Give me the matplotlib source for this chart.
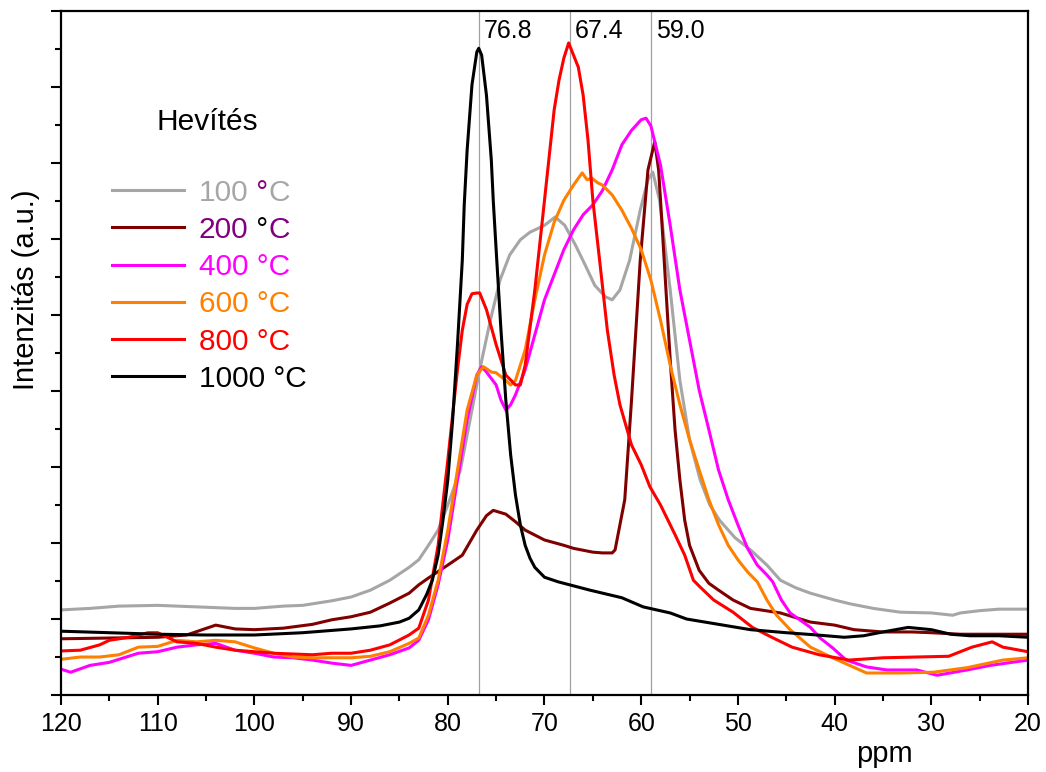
import matplotlib
matplotlib.use("Agg")
import matplotlib.pyplot as plt
from matplotlib.ticker import MultipleLocator

plt.rcParams['font.family'] = ['Liberation Sans', 'DejaVu Sans']

# 13C NMR spectra, ppm vs intensity (a.u.)
ppm_100 = [120, 117, 114, 110, 106, 102, 100, 97, 95, 92, 90, 88, 86, 84, 83, 82, 81, 80, 78.7, 77.7,
           76.7, 75.6, 74.6, 73.6, 72.5, 71.5, 70, 68.9, 67.9, 66.8, 65.8, 64.8, 63.7, 63.0, 62.2, 61.2,
           60.1, 59.3, 58.8, 58.1, 57.0, 56.0, 55.0, 53.9, 52.9, 51.9, 50.3, 48.7, 47, 45.6, 44, 42.5,
           40, 38.4, 36, 33.2, 30, 27.8, 27, 25, 23, 20]
int_100 = [1.12, 1.14, 1.17, 1.18, 1.16, 1.14, 1.14, 1.17, 1.18, 1.24, 1.29, 1.38, 1.51, 1.68, 1.78, 1.97,
           2.17, 2.50, 2.96, 3.62, 4.28, 4.93, 5.46, 5.79, 5.99, 6.09, 6.18, 6.29, 6.18, 5.92, 5.66, 5.39,
           5.24, 5.20, 5.33, 5.72, 6.38, 6.78, 6.88, 6.51, 5.33, 4.14, 3.36, 2.83, 2.50, 2.30, 2.07, 1.91,
           1.71, 1.51, 1.41, 1.34, 1.25, 1.20, 1.14, 1.09, 1.08, 1.05, 1.08, 1.11, 1.13, 1.13]

ppm_200 = [120, 115, 110, 107, 104, 102, 100, 97, 94, 92, 90, 88, 86, 84, 83, 82, 80, 78.5, 77, 76,
           75.3, 74, 73, 72, 70, 68, 67, 65, 64, 63, 62.7, 61.7, 61, 60.1, 59.3, 58.6, 58.2, 58, 57.5,
           57, 56.5, 56, 55.5, 55, 54, 53, 52, 50.5, 48.7, 45.6, 42.5, 40, 38, 35, 32, 30, 27, 25, 20]
int_200 = [0.74, 0.75, 0.76, 0.79, 0.92, 0.87, 0.86, 0.88, 0.93, 0.99, 1.03, 1.09, 1.21, 1.34, 1.45,
           1.54, 1.71, 1.84, 2.17, 2.36, 2.43, 2.38, 2.28, 2.17, 2.04, 1.97, 1.93, 1.88, 1.87, 1.87,
           1.91, 2.57, 3.88, 5.72, 6.91, 7.28, 6.91, 6.51, 5.46, 4.41, 3.49, 2.83, 2.30, 1.97, 1.64,
           1.47, 1.38, 1.25, 1.14, 1.08, 0.96, 0.92, 0.86, 0.83, 0.83, 0.82, 0.80, 0.80, 0.80]

ppm_400 = [120, 119, 117, 115, 112, 110, 108, 106, 104, 102, 100, 98, 96, 94, 92, 90, 88, 86, 84, 83,
           82, 81, 80, 79, 78, 77, 76.5, 76, 75, 74.5, 74, 73.5, 73, 72, 71, 70, 69, 68, 67, 66, 65, 64,
           63, 62, 61, 60, 59.5, 59, 58, 57, 56, 55, 54, 53, 52, 51, 50, 49, 48, 47, 46.4, 45.5, 44.6,
           42.5, 41.5, 40.2, 38.8, 36.7, 34.6, 31.5, 29.4, 26.3, 23.9, 20]
int_400 = [0.34, 0.30, 0.39, 0.43, 0.55, 0.57, 0.63, 0.66, 0.68, 0.59, 0.55, 0.50, 0.49, 0.46, 0.42,
           0.39, 0.46, 0.53, 0.62, 0.72, 0.99, 1.45, 2.04, 2.83, 3.62, 4.21, 4.32, 4.25, 4.08, 3.88,
           3.75, 3.82, 3.95, 4.28, 4.74, 5.20, 5.53, 5.86, 6.12, 6.32, 6.45, 6.64, 6.91, 7.24, 7.43,
           7.57, 7.59, 7.49, 6.97, 6.18, 5.33, 4.67, 4.01, 3.49, 2.96, 2.57, 2.24, 1.93, 1.71, 1.58,
           1.49, 1.25, 1.08, 0.89, 0.75, 0.62, 0.46, 0.37, 0.33, 0.33, 0.26, 0.33, 0.39, 0.46]

ppm_600 = [120, 118, 116, 114, 112, 110, 108, 106, 104, 102, 100, 98, 96, 94, 92, 90, 88, 86, 84, 83,
           82, 81, 80, 79, 78, 77, 76.3, 75.5, 75, 74, 73.5, 73, 72, 71, 70, 69, 68, 67, 66.5, 66.1,
           65.6, 65.1, 64.5, 64, 63, 62, 61, 60, 59, 58, 57, 56, 55, 54, 53, 52, 51, 50, 49, 48, 47, 46,
           44.6, 42.5, 40.2, 38.1, 36.7, 33.2, 29.8, 26.3, 22.6, 20]
int_600 = [0.47, 0.50, 0.50, 0.53, 0.63, 0.64, 0.72, 0.70, 0.72, 0.70, 0.62, 0.55, 0.50, 0.49, 0.49,
           0.49, 0.51, 0.57, 0.68, 0.75, 1.05, 1.51, 2.17, 2.96, 3.75, 4.21, 4.32, 4.25, 4.24, 4.14,
           4.08, 4.14, 4.54, 5.20, 5.79, 6.22, 6.51, 6.71, 6.80, 6.87, 6.78, 6.80, 6.74, 6.71, 6.58,
           6.38, 6.14, 5.86, 5.46, 4.93, 4.34, 3.82, 3.36, 2.96, 2.57, 2.24, 1.97, 1.78, 1.62, 1.49,
           1.25, 1.05, 0.86, 0.63, 0.49, 0.37, 0.29, 0.29, 0.30, 0.36, 0.46, 0.49]

ppm_800 = [120, 118, 116, 115, 113, 111, 110, 108, 106, 104, 102, 100, 98, 96, 94, 92, 90, 88, 86, 84,
           83, 82, 81, 80, 79, 78.5, 78, 77.5, 77, 76.7, 76, 75, 74, 73, 72.5, 72, 71, 70, 69, 68.5, 68,
           67.5, 67, 66.5, 66, 65.5, 65, 64.3, 63.5, 62.8, 62.2, 61, 60, 59.1, 58, 57, 56.5, 55.5, 54.6,
           53.9, 52.5, 50.5, 48.5, 46.5, 44.4, 41.6, 38.5, 35, 31.6, 28.2, 25.8, 23.7, 22.6, 20]
int_800 = [0.58, 0.59, 0.66, 0.72, 0.76, 0.82, 0.82, 0.70, 0.68, 0.63, 0.59, 0.57, 0.55, 0.54, 0.53,
           0.55, 0.55, 0.59, 0.66, 0.79, 0.88, 1.25, 1.97, 3.09, 4.28, 4.80, 5.14, 5.28, 5.29, 5.29,
           5.07, 4.61, 4.21, 4.08, 4.08, 4.34, 5.33, 6.51, 7.70, 8.09, 8.38, 8.58, 8.42, 8.26, 7.89,
           7.30, 6.51, 5.72, 4.80, 4.21, 3.82, 3.29, 3.03, 2.74, 2.50, 2.24, 2.11, 1.84, 1.51, 1.42,
           1.25, 1.09, 0.89, 0.76, 0.63, 0.53, 0.46, 0.49, 0.50, 0.51, 0.63, 0.70, 0.63, 0.57]

ppm_1000 = [120, 115, 110, 105, 100, 95, 90, 87, 85, 84, 83, 82.2, 81.6, 81, 80.5, 80, 79.5, 79, 78.5,
            78.3, 78, 77.5, 77, 76.8, 76.5, 76, 75.5, 75.3, 75, 74.5, 74, 73.5, 73, 72.5, 72, 71.5, 71,
            70, 68.6, 65.3, 62, 59.8, 57, 55.3, 52, 48.7, 45, 41.8, 39, 37, 35, 32.4, 30, 28, 26, 23, 20]
int_1000 = [0.84, 0.82, 0.80, 0.79, 0.79, 0.82, 0.87, 0.91, 0.96, 1.01, 1.12, 1.32, 1.51, 1.84, 2.30,
            2.83, 3.62, 4.61, 5.72, 6.45, 7.17, 8.03, 8.46, 8.51, 8.42, 7.89, 7.04, 6.51, 5.86, 4.80,
            3.88, 3.16, 2.63, 2.24, 1.97, 1.80, 1.68, 1.55, 1.49, 1.38, 1.28, 1.16, 1.08, 1.00, 0.93,
            0.86, 0.82, 0.79, 0.76, 0.78, 0.83, 0.89, 0.86, 0.80, 0.78, 0.78, 0.76]

series = [
    (ppm_100, int_100, '#A6A6A6'),
    (ppm_200, int_200, '#800000'),
    (ppm_400, int_400, '#FF00FF'),
    (ppm_600, int_600, '#FF8000'),
    (ppm_800, int_800, '#FF0000'),
    (ppm_1000, int_1000, '#000000'),
]
temps = ['100', '200', '400', '600', '800', '1000']
label_colors = ['#A6A6A6', '#800080', '#FF00FF', '#FF8000', '#FF0000', '#000000']
peaks = [76.8, 67.4, 59.0]

fig = plt.figure(figsize=(10.46, 7.72), dpi=100)
ax = fig.add_axes([0.0583, 0.0997, 0.9245, 0.886])

for p in peaks:
    ax.axvline(p, color='#A0A0A0', lw=0.9, zorder=1)
    ax.annotate(f'{p:.1f}', xy=(p, 1), xycoords=('data', 'axes fraction'),
                xytext=(5, -8), textcoords='offset pixels', ha='left', va='top', fontsize=18)

lines = []
for x, y, c in series:
    ln, = ax.plot(x, y, color=c, lw=2.2, zorder=2)
    lines.append(ln)

ax.set_xlim(120, 20)
ax.set_ylim(0, 9)
ax.xaxis.set_major_locator(MultipleLocator(10))
ax.xaxis.set_minor_locator(MultipleLocator(5))
ax.yaxis.set_major_locator(MultipleLocator(1))
ax.yaxis.set_minor_locator(MultipleLocator(0.5))
ax.set_yticklabels([])
ax.tick_params(axis='both', which='major', length=7.5, width=1.5, labelsize=18, pad=5)
ax.tick_params(axis='both', which='minor', length=4, width=1.5)
for s in ax.spines.values():
    s.set_linewidth(1.6)

ax.set_xlabel('ppm', fontsize=21)
ax.xaxis.set_label_coords(0.852, -0.066)
ax.set_ylabel('Intenzitás (a.u.)', fontsize=21)
ax.yaxis.set_label_coords(-0.022, 0.592)

ax.text(0.151, 0.838, 'Hevítés', transform=ax.transAxes, ha='center', va='center', fontsize=21.5)

labels = ['100', '200'] + [t + ' °C' for t in temps[2:]]
leg = ax.legend(lines, labels, loc='upper left', bbox_to_anchor=(0.0527, 0.755),
                frameon=False, fontsize=21.5, handlelength=2.4, handletextpad=0.5,
                labelspacing=0.31, borderpad=0, borderaxespad=0, labelcolor=label_colors)

# mixed colour labels for the first two entries
texts = leg.get_texts()
for t, deg_c, txt_c in [(texts[0], '#800080', '#A6A6A6'), (texts[1], '#000000', '#800080')]:
    a1 = ax.annotate(' °', xy=(1, 0), xycoords=t, ha='left', va='bottom',
                     color=deg_c, fontsize=21.5, zorder=6)
    ax.annotate('C', xy=(1, 0), xycoords=a1, ha='left', va='bottom',
                color=txt_c, fontsize=21.5, zorder=6)

plt.savefig('out.png', dpi=100)
